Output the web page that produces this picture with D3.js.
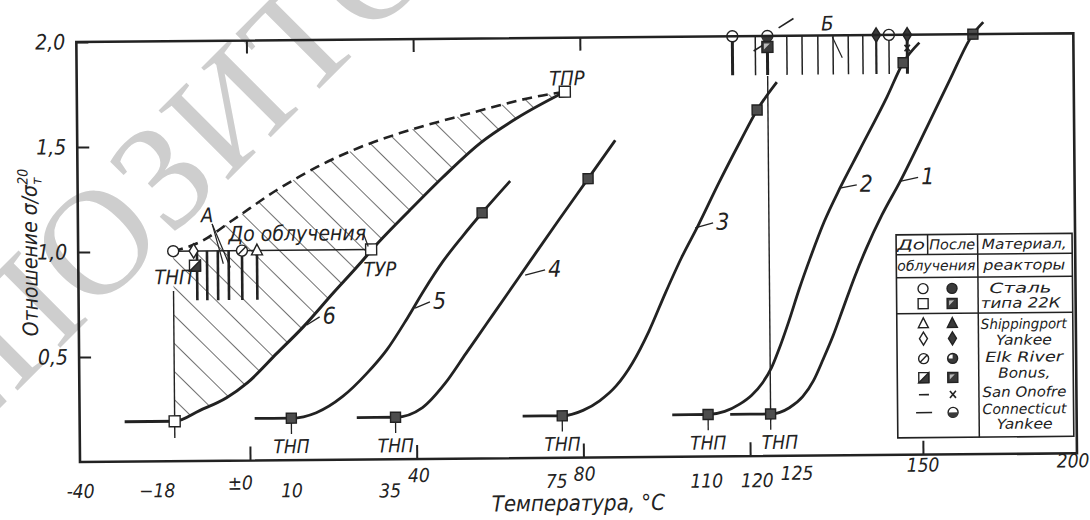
<!DOCTYPE html>
<html>
<head>
<meta charset="utf-8">
<title>Отношение σ/σт20 — температура</title>
<script src="https://cdn.jsdelivr.net/npm/d3@7"></script>
<style>
  html, body { margin: 0; padding: 0; background: #fff; }
  svg text { font-family: "Liberation Sans Narrow", "DejaVu Sans Condensed", "Liberation Sans", sans-serif; font-style: italic; fill: #222; }
  svg text.wm { font-family: "Liberation Serif", "DejaVu Serif", serif; font-style: normal; fill: #cecece; }
</style>
</head>
<body>
<svg id="chart" width="1090" height="520"></svg>
<script>
// curves: [temperature °C, ratio σ/σт20]
var curve1 = [[115.3,0.2],[125,0.2],[128.1,0.229],[130.3,0.281],[132.1,0.357],[133.7,0.457],[135.4,0.571],[137.2,0.71],[139,0.848],[141,0.986],[143.6,1.143],[146.6,1.3],[152.3,1.562],[159.7,1.781],[167.4,2.0],[170.8,2.057]];
var curve2 = [[101.4,0.2],[110,0.2],[114,0.214],[117.6,0.248],[120.5,0.29],[123.1,0.348],[125.2,0.419],[126.5,0.51],[128.1,0.638],[129.9,0.795],[131.7,0.938],[134.1,1.114],[136.7,1.271],[140,1.452],[144.6,1.705],[147.3,1.867],[150,1.962]];
var curve3 = [[65.5,0.2],[75,0.2],[80,0.225],[84,0.27],[88,0.34],[92,0.45],[96,0.6],[100,0.78],[104,0.95],[108,1.1],[113,1.3],[118.3,1.5],[122.4,1.648],[126.5,1.78]];
var curve4 = [[25.7,0.2],[35,0.2],[41.5,0.245],[47,0.36],[52,0.5],[57,0.64],[62,0.78],[67.7,0.94],[74.5,1.13],[81.7,1.328],[88.3,1.51]];
var curve5 = [[1.2,0.2],[10,0.2],[16,0.225],[22.3,0.3],[28.2,0.41],[33,0.52],[38,0.67],[42,0.8],[46.7,0.94],[51.5,1.06],[56.2,1.17],[63,1.32]];
var curve6 = [[-30,0.19],[-18,0.19],[-12,0.24],[-5.5,0.3],[-0.5,0.37],[6.7,0.51],[13,0.633],[20.3,0.794],[26.9,0.936],[29.5,0.995],[38.9,1.186],[46.9,1.342],[55.9,1.502],[64.8,1.62],[76.3,1.743]];
var curve6Upper = [[-18,1.0],[-11.5,1.043],[-3.6,1.146],[7,1.287],[16.7,1.395],[25.4,1.474],[36.7,1.553],[49.4,1.623],[58.3,1.669],[67.9,1.715],[76.3,1.743]];

var openSquares = [[-18,0.19],[29.5,1.0],[76.3,1.743]];
var irradSquares = [[10,0.2],[56.2,1.17],[35,0.2],[81.7,1.328],[75,0.2],[122.4,1.648],[110,0.2],[147.3,1.867],[125,0.2],[167.4,2.0]];
var thnpTemps = [10, 35, 75, 110, 125];

// tests before irradiation (A) and after (Б)
var pointsA = [
  {t: -18, v: 1.0, m: "circle"}, {t: -13.1, v: 1.0, m: "diam"}, {t: -12.8, v: 0.93, m: "sqHatch"},
  {t: -1.5, v: 1.0, m: "circSlash"}, {t: 2.1, v: 1.0, m: "tri"}
];
var barsA = [-12.3, -9.9, -7.3, -4.7, -1.5, 2.1];
var pointsB = [
  {t: 116.6, v: 2.0, m: "circle"}, {t: 122.8, v: 1.943, m: "dashS"}, {t: 125, v: 2.0, m: "circHalf"},
  {t: 125, v: 1.948, m: "sqHatchF"}, {t: 128.1, v: 2.06, m: "dashL"}, {t: 142.9, v: 2.0, m: "diamF"},
  {t: 145, v: 2.0, m: "circle"}, {t: 148, v: 2.0, m: "diamF"}, {t: 148, v: 1.937, m: "cross"}
];
var barsB = [116.6, 122.1, 125, 128.2, 130.7, 133.3, 135.8, 138.3, 140.7, 142.9, 145, 148];

var xTickMarks = [0, 40, 80, 120, 150];
var xTopTicks = [0, 40, 80];
var xTickVals = [-40, -18, 0, 10, 35, 40, 75, 80, 110, 120, 125, 150, 200];
var xTickText = ["-40", "−18", "±0", "10", "35", "40", "75", "80", "110", "120", "125", "150", "200"];
var yTickVals = [0.5, 1.0, 1.5, 2.0];

var notes = [
  {text: "ТНП", t: -18, v: 0.876, anchor: "middle"},
  {text: "ТУР", t: 27.6, v: 0.905, anchor: "start"},
  {text: "ТПР", t: 76.8, v: 1.807, anchor: "middle"},
  {text: "А", t: -9.8, v: 1.17, anchor: "middle"},
  {text: "До облучения", t: 11.8, v: 1.08, anchor: "middle"},
  {text: "Б", t: 134.9, v: 2.057, anchor: "middle"}
];
var noteLeaders = [
  [[-8.6,1.128],[-6,0.938]], [[-8.6,1.128],[-4.3,0.92]],
  [[27.6,1.08],[28.8,1.014]], [[135.7,1.993],[137.3,1.893]]
];
var curveTags = [
  {text: "1", from: [146.6,1.302], to: [149.6,1.32]},
  {text: "2", from: [136.7,1.273], to: [139.5,1.287]},
  {text: "3", from: [107.3,1.089], to: [111.6,1.112]},
  {text: "4", from: [66.4,0.871], to: [71.2,0.895]},
  {text: "5", from: [39.9,0.719], to: [43.5,0.748]},
  {text: "6", from: [13.9,0.643], to: [17,0.681]}
];

var legendHead = ["До", "После", "Материал,", "облучения", "реакторы"];
var legendSteel = [["circle","circleF"],["square","sqHatchF"]];
var legendSteelText = ["Сталь", "типа 22К"];
var legendReactors = [["tri","triF"],["diam","diamF"],["circSlash","circQ"],["sqHatch","sqHatchF"],["dashS","cross"],["dashL","circHalf"]];
var legendReactorText = ["Shippingport", "Yankee", "Elk River", "Bonus,", "San Onofre", "Connecticut", "Yankee"];

var ink = "#222";
var svg = d3.select("#chart");

// watermark of the scan
svg.append("text").attr("class", "wm")
  .attr("transform", "translate(240,98) rotate(-45)")
  .attr("text-anchor", "middle").attr("dy", "0.33em")
  .style("font-size", "150px").style("letter-spacing", "2px")
  .text("РЕПОЗИТОРИЙ");

// the scanned page is slightly tilted
var g = svg.append("g").attr("transform", "rotate(-0.5,80,462)");

var defs = svg.append("defs");
defs.append("pattern").attr("id", "hatch")
  .attr("width", 20).attr("height", 20)
  .attr("patternUnits", "userSpaceOnUse")
  .attr("patternTransform", "rotate(-45)")
  .append("line").attr("x1", 0).attr("y1", 0).attr("x2", 0).attr("y2", 20)
  .attr("stroke", ink).attr("stroke-width", 1.3);

var x = d3.scaleLinear().domain([-40.8, 125, 150, 200]).range([80, 771, 923, 1077]);
var y = d3.scaleLinear().domain([0, 2]).range([462, 42]);

var gHatch = g.append("g");
var gLines = g.append("g");
var gMarks = g.append("g");
var gText = g.append("g");

// axes
var xAxis = g.append("g").attr("transform", "translate(0," + y(0) + ")")
  .call(d3.axisBottom(x).tickValues(xTickMarks).tickSize(-14).tickFormat(""));
var xTop = g.append("g").attr("transform", "translate(0," + y(2) + ")")
  .call(d3.axisTop(x).tickValues(xTopTicks).tickSize(-13).tickFormat(""));
var yAxis = g.append("g").attr("transform", "translate(" + x(-40.8) + ",0)")
  .call(d3.axisLeft(y).tickValues(yTickVals).tickSize(-12).tickPadding(11)
    .tickFormat(function (d) { return d.toFixed(1).replace(".", ","); }));
[xAxis, xTop, yAxis].forEach(function (a) {
  a.select(".domain").remove();
  a.selectAll(".tick line").attr("stroke", ink).attr("stroke-width", 2);
});
yAxis.selectAll("text").style("font-size", "21px").attr("fill", ink);

g.append("rect")
  .attr("x", x(-40.8)).attr("y", y(2))
  .attr("width", x(200) - x(-40.8)).attr("height", y(0) - y(2))
  .attr("fill", "none").attr("stroke", ink).attr("stroke-width", 2.6);

var nudge = {"-40":[-3,2], "−18":[-18,2], "±0":[-10,-5], "10":[0,3], "35":[-6,4], "40":[2,-11],
  "75":[-6,-4], "80":[1,-11], "110":[-2,-3], "120":[7,-3], "125":[26,-10], "150":[0,-17], "200":[-4,-20]};
g.append("g").selectAll("text")
  .data(xTickVals)
  .join("text")
  .attr("x", function (d, i) { return x(d) + nudge[xTickText[i]][0]; })
  .attr("y", function (d, i) { return y(0) + 34 + nudge[xTickText[i]][1]; })
  .attr("text-anchor", "middle")
  .style("font-size", "19px")
  .text(function (d, i) { return xTickText[i]; });

g.append("text")
  .attr("x", 578).attr("y", y(0) + 53)
  .attr("text-anchor", "middle").style("font-size", "22px")
  .text("Температура, °С");

var yt = g.append("text")
  .attr("transform", "translate(39,252) rotate(-90)")
  .attr("text-anchor", "middle").style("font-size", "21px");
yt.append("tspan").text("Отношение σ/σ");
yt.append("tspan").attr("dy", 5).style("font-size", "14px").text("т");
yt.append("tspan").attr("dx", -7).attr("dy", -14).style("font-size", "14px").text("20");

// curves
var line = d3.line().x(function (d) { return x(d[0]); }).y(function (d) { return y(d[1]); }).curve(d3.curveMonotoneX);
var straight = d3.line().x(function (d) { return x(d[0]); }).y(function (d) { return y(d[1]); });

[curve1, curve2, curve3, curve4, curve5].forEach(function (c) {
  gLines.append("path").attr("d", line(c)).attr("fill", "none").attr("stroke", ink).attr("stroke-width", 2.8);
});
var p6 = gLines.append("path").attr("d", line(curve6)).attr("fill", "none").attr("stroke", ink).attr("stroke-width", 3);
var p6u = gLines.append("path").attr("d", line(curve6Upper)).attr("fill", "none").attr("stroke", ink)
  .attr("stroke-width", 2.6).attr("stroke-dasharray", "10,6");

// hatched band between the two boundaries of curve 6
function sample(node) {
  var L = node.getTotalLength(), pts = [];
  for (var s = 0; s <= L; s += 2) { var p = node.getPointAtLength(s); pts.push([p.x, p.y]); }
  var e = node.getPointAtLength(L); pts.push([e.x, e.y]);
  return pts;
}
var up = sample(p6u.node());
var low = sample(p6.node()).filter(function (p) { return p[0] >= x(-18) - 0.5; }).reverse();
var poly = [[x(-18), y(0.19)]].concat(up, low);
gHatch.append("path").attr("d", "M" + poly.join("L") + "Z").attr("fill", "url(#hatch)");

// thin construction lines
gLines.append("path").attr("d", straight([[-18,0.11],[-18,0.81]])).attr("stroke", ink).attr("stroke-width", 1.4);
gLines.append("path").attr("d", straight([[125,0.17],[125,1.81]])).attr("stroke", ink).attr("stroke-width", 1.4);
gLines.append("path").attr("d", straight([[-18,1.0],[29.5,1.0]])).attr("stroke", ink).attr("stroke-width", 1.4);

thnpTemps.forEach(function (t) {
  gLines.append("path").attr("d", straight([[t,0.2],[t,0.125]])).attr("stroke", ink).attr("stroke-width", 1.3);
});

// scatter bars
barsA.forEach(function (t) {
  gLines.append("path").attr("d", straight([[t,1.0],[t,0.765]])).attr("stroke", ink).attr("stroke-width", 2.6);
});
var thick = {116.6: 3, 125: 3, 148: 3, 142.9: 2.2};
barsB.forEach(function (t) {
  gLines.append("path").attr("d", straight([[t,2.0],[t,1.814]])).attr("stroke", ink).attr("stroke-width", thick[t] || 1.5);
});

// markers
function marker(sel, type, px, py, s, rot) {
  s = s || 11;
  var r = s / 2;
  var m = sel.append("g").attr("transform", "translate(" + px + "," + py + ")" + (rot ? " rotate(" + rot + ")" : ""));
  var dark = "#3a3a3a";
  function circ(fill) { return m.append("circle").attr("r", r).attr("fill", fill).attr("stroke", ink).attr("stroke-width", 1.4); }
  function sq(fill) { return m.append("rect").attr("x", -r).attr("y", -r).attr("width", s).attr("height", s).attr("fill", fill).attr("stroke", ink).attr("stroke-width", 1.4); }
  function shape(d, fill) { return m.append("path").attr("d", d).attr("fill", fill).attr("stroke", ink).attr("stroke-width", 1.4); }
  function seg(x1, y1, x2, y2, w) { return m.append("line").attr("x1", x1).attr("y1", y1).attr("x2", x2).attr("y2", y2).attr("stroke", ink).attr("stroke-width", w || 1.6); }
  var tri = "M0," + (-r * 1.15) + "L" + r + "," + (r * 0.8) + "L" + (-r) + "," + (r * 0.8) + "Z";
  var dia = "M0," + (-r * 1.3) + "L" + (r * 0.8) + ",0L0," + (r * 1.3) + "L" + (-r * 0.8) + ",0Z";
  switch (type) {
    case "circle": circ("#fff"); break;
    case "circleF": circ(dark); break;
    case "square": sq("#fff"); break;
    case "squareF": sq("#4d4d4d"); break;
    case "tri": shape(tri, "#fff"); break;
    case "triF": shape(tri, dark); break;
    case "diam": shape(dia, "#fff"); break;
    case "diamF": shape(dia, dark); break;
    case "circSlash": circ("#fff"); seg(-r * 0.7, r * 0.7, r * 0.7, -r * 0.7, 1.4); break;
    case "circQ": circ(dark); m.append("path").attr("d", "M0,0L" + (-r + 1) + ",0A" + (r - 1) + "," + (r - 1) + " 0 0 1 0," + (-r + 1) + "Z").attr("fill", "#fff"); break;
    case "circHalf": circ("#fff"); m.append("path").attr("d", "M" + (-r) + ",0A" + r + "," + r + " 0 0 0 " + r + ",0Z").attr("fill", dark); break;
    case "sqHatch": sq("#fff"); shape("M" + (-r) + "," + r + "L" + r + "," + (-r) + "L" + r + "," + r + "Z", dark); break;
    case "sqHatchF": sq(dark); m.append("path").attr("d", "M" + (-r + 2) + "," + (-r + 2) + "L" + (r - 3) + "," + (-r + 2) + "L" + (-r + 2) + "," + (r - 3) + "Z").attr("fill", "#bbb"); break;
    case "dashS": seg(-r, 0, r, 0); break;
    case "dashL": seg(-r * 1.6, 0, r * 1.6, 0); break;
    case "cross": seg(-r * 0.6, -r * 0.7, r * 0.6, r * 0.7); seg(-r * 0.6, r * 0.7, r * 0.6, -r * 0.7); break;
  }
  return m;
}

openSquares.forEach(function (d) { marker(gMarks, "square", x(d[0]), y(d[1]), 11); });
irradSquares.forEach(function (d) { marker(gMarks, "squareF", x(d[0]), y(d[1]), 10); });
pointsA.forEach(function (d) { marker(gMarks, d.m, x(d.t), y(d.v), 11); });
pointsB.forEach(function (d) {
  var rot = (d.m === "dashS" || d.m === "dashL") ? -32 : 0;
  marker(gMarks, d.m, x(d.t), y(d.v), d.m === "cross" ? 9 : 11, rot);
});

// labels in the plot
notes.forEach(function (n) {
  gText.append("text").attr("x", x(n.t)).attr("y", y(n.v)).attr("dy", "0.35em")
    .attr("text-anchor", n.anchor).style("font-size", n.text.length > 3 ? "21px" : "20px").text(n.text);
});
noteLeaders.forEach(function (l) {
  gText.append("path").attr("d", straight(l)).attr("stroke", ink).attr("stroke-width", 1.2);
});
thnpTemps.forEach(function (t) {
  gText.append("text").attr("x", x(t) + (t === 125 ? 9 : 0)).attr("y", y(0) - 7)
    .attr("text-anchor", "middle").style("font-size", "19px").text("ТНП");
});
curveTags.forEach(function (c) {
  gText.append("path").attr("d", straight([c.from, c.to])).attr("stroke", ink).attr("stroke-width", 1.3);
  gText.append("text").attr("x", x(c.to[0]) + 3).attr("y", y(c.to[1])).attr("dy", "0.3em")
    .style("font-size", "23px").text(c.text);
});

// legend table
var lg = g.append("g");
var L = {x0: 898, x1: 1074, y0: 242, y1: 445, c1: 929.5, c2: 979.5};
lg.append("rect").attr("x", L.x0).attr("y", L.y0).attr("width", L.x1 - L.x0).attr("height", L.y1 - L.y0)
  .attr("fill", "#fff").attr("stroke", ink).attr("stroke-width", 1.6);
function rule(x1, y1, x2, y2) {
  lg.append("line").attr("x1", x1).attr("y1", y1).attr("x2", x2).attr("y2", y2).attr("stroke", ink).attr("stroke-width", 1.5);
}
rule(L.c2, L.y0, L.c2, L.y1);
rule(L.c1, L.y0, L.c1, 262);
rule(L.x0, 262, L.x1, 262);
rule(L.x0, 285, L.x1, 285);
rule(L.x0, 321, L.x1, 321);

// widths of the narrow legend lettering
var fit = {"До": 28, "После": 46, "Материал,": 85, "облучения": 78, "реакторы": 82, "Сталь": 62, "типа 22К": 80,
  "Shippingport": 86, "Yankee": 56, "Elk River": 78, "Bonus,": 52, "San Onofre": 84, "Connecticut": 84};
function legendText(t, cx, cy) {
  lg.append("text").attr("x", cx).attr("y", cy).attr("dy", "0.35em")
    .attr("text-anchor", "middle").style("font-size", "14px")
    .attr("textLength", fit[t]).attr("lengthAdjust", "spacingAndGlyphs").text(t);
}
var headPos = [[913, 252], [954, 252], [1026, 252], [938, 273], [1026, 273]];
legendHead.forEach(function (t, i) { legendText(t, headPos[i][0], headPos[i][1]); });
var steelRowY = [296, 311];
legendSteel.forEach(function (pair, i) {
  marker(lg, pair[0], 924.5, steelRowY[i], 10);
  marker(lg, pair[1], 953.5, steelRowY[i], 10);
  legendText(legendSteelText[i], 1022, steelRowY[i]);
});
var reactorRowY = [331, 346, 366, 385, 402, 420];
legendReactors.forEach(function (pair, i) {
  marker(lg, pair[0], 924.5, reactorRowY[i], 10);
  marker(lg, pair[1], 953.5, reactorRowY[i], 10);
});
var reactorTextY = [332, 348, 365, 381, 400, 417, 432];
legendReactorText.forEach(function (t, i) { legendText(t, 1025, reactorTextY[i]); });
</script>
</body>
</html>
